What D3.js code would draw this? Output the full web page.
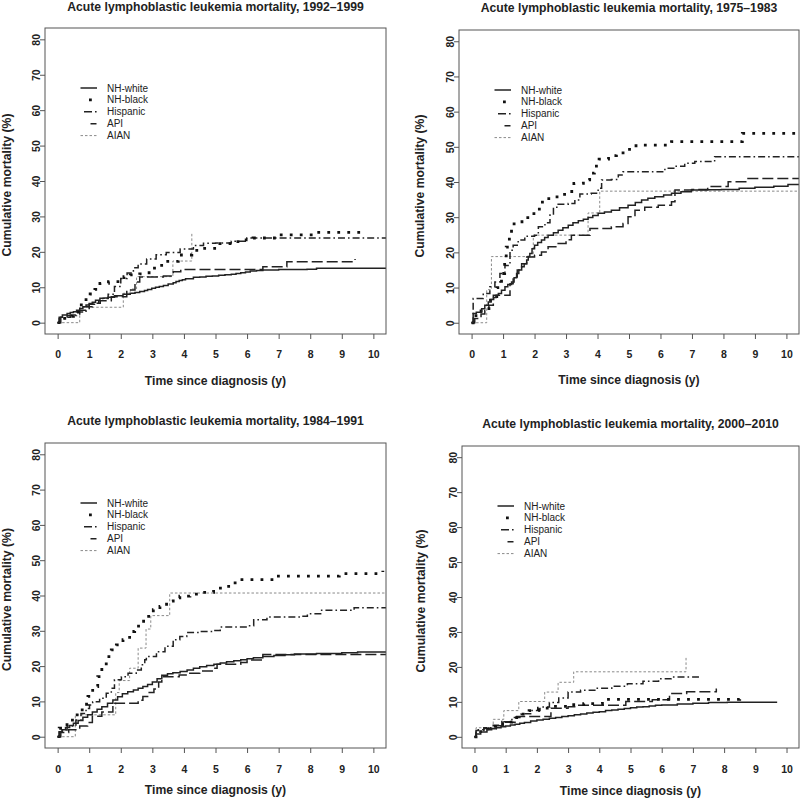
<!DOCTYPE html>
<html>
<head>
<meta charset="utf-8">
<script src="https://cdn.jsdelivr.net/npm/d3@7"></script>
<style>
  html, body { margin: 0; padding: 0; background: #fff; }
  svg { display: block; font-family: "Liberation Sans", Arial, sans-serif; }
</style>
</head>
<body>
<svg id="chart" width="800" height="798"></svg>
<script>
// ---------------- DATA ----------------
const groups = ["NH-white", "NH-black", "Hispanic", "API", "AIAN"];
const titles = [
  "Acute lymphoblastic leukemia mortality, 1992\u20131999",
  "Acute lymphoblastic leukemia mortality, 1975\u20131983",
  "Acute lymphoblastic leukemia mortality, 1984\u20131991",
  "Acute lymphoblastic leukemia mortality, 2000\u20132010"
];
const xTicks = [0, 1, 2, 3, 4, 5, 6, 7, 8, 9, 10];
const yTicks = [0, 10, 20, 30, 40, 50, 60, 70, 80];
const xLabel = "Time since diagnosis (y)";
const yLabel = "Cumulative mortality (%)";

// [time (y), cumulative mortality (%)] step points, 1992-1999
const white92 = [[0,0],[0.05,1.5],[0.15,2.2],[0.3,2.6],[0.4,2.9],[0.5,3.1],[0.6,3.5],[0.7,4.0],[0.8,4.5],[0.9,5.0],[1.0,5.4],[1.1,5.8],[1.2,6.3],[1.34,6.9],[1.47,7.0],[1.6,7.2],[1.8,7.6],[2.07,8.0],[2.3,8.3],[2.45,8.5],[2.6,8.8],[2.75,9.1],[2.85,9.4],[2.98,9.7],[3.1,10.0],[3.22,10.2],[3.35,10.5],[3.5,10.9],[3.66,11.3],[3.75,11.6],[3.85,11.9],[3.95,12.1],[4.05,12.4],[4.3,12.8],[4.5,12.9],[4.7,13.1],[4.9,13.2],[5.1,13.4],[5.3,13.5],[5.5,13.7],[5.65,13.9],[5.8,14.1],[5.95,14.3],[6.1,14.6],[6.3,14.7],[6.5,14.9],[7.0,15.0],[7.9,15.1],[8.2,15.4],[10.4,15.4]];
const black92 = [[0,0],[0.1,1.2],[0.3,1.8],[0.5,3.0],[0.75,5.0],[0.9,6.5],[1.03,8.1],[1.18,9.4],[1.34,11.1],[1.61,11.6],[1.98,12.1],[2.1,13.0],[2.3,13.5],[2.6,13.8],[2.82,14.1],[2.98,15.4],[3.2,16.2],[3.4,17.3],[3.82,19.1],[4.25,20.4],[4.6,21.0],[5.14,22.3],[5.57,22.9],[5.88,23.4],[6.19,23.9],[6.94,24.8],[8.1,25.5],[9.7,25.5]];
const hisp92 = [[0,0],[0.05,1.2],[0.3,2.0],[0.6,3.0],[0.9,4.5],[1.1,5.5],[1.35,6.8],[1.6,8.0],[1.8,10.2],[2.0,12.5],[2.2,14.0],[2.4,15.5],[2.55,16.6],[2.82,18.0],[3.12,19.2],[3.44,19.8],[3.88,20.8],[4.3,21.8],[4.62,22.4],[5.0,22.5],[5.5,23.0],[5.99,23.9],[10.4,23.9]];
const api92 = [[0,0],[0.1,1.5],[0.4,2.2],[0.7,3.5],[1.0,5.2],[1.3,6.2],[1.7,7.3],[2.19,9.2],[2.45,11.5],[2.6,12.9],[3.35,13.2],[3.66,14.4],[3.9,15.0],[6.5,15.8],[7.26,17.2],[9.42,18.0]];
const aian92 = [[0,0],[0.7,4.35],[2.08,8.3],[2.3,9.5],[2.5,13.0],[3.65,17.4],[4.25,25.5]];

// 1975-1983
const white75 = [[0,0],[0.05,2.6],[0.15,3.0],[0.32,4.0],[0.42,5.0],[0.53,5.9],[0.62,6.6],[0.7,7.2],[0.78,7.8],[0.85,8.3],[0.95,9.2],[1.06,10.2],[1.15,10.9],[1.27,11.6],[1.35,12.8],[1.43,14.0],[1.5,15.0],[1.59,15.9],[1.67,16.8],[1.75,17.8],[1.8,18.8],[1.85,19.7],[1.92,21.0],[2.0,22.0],[2.1,22.8],[2.22,23.5],[2.32,24.2],[2.43,24.9],[2.6,25.6],[2.75,26.3],[2.9,27.0],[3.07,27.7],[3.22,28.4],[3.39,29.0],[3.55,29.4],[3.7,29.9],[3.85,30.5],[4.02,31.1],[4.22,31.5],[4.44,32.0],[4.7,32.7],[4.97,33.4],[5.2,34.2],[5.4,34.9],[5.6,35.4],[5.82,35.8],[6.1,36.3],[6.35,36.8],[6.65,37.2],[6.98,37.7],[7.5,37.8],[7.94,37.9],[8.5,38.2],[9.0,38.5],[9.6,38.8],[10.05,39.3],[10.4,39.3]];
const black75 = [[0,0],[0.05,2.0],[0.3,4.0],[0.6,7.0],[0.8,10.0],[0.95,14.0],[1.05,18.0],[1.1,21.5],[1.2,26.0],[1.35,28.7],[1.6,29.9],[1.9,31.0],[2.05,32.3],[2.25,35.3],[2.6,35.8],[2.8,36.5],[3.0,37.3],[3.25,39.6],[3.55,40.6],[3.75,42.5],[3.9,44.5],[4.05,46.5],[4.35,47.5],[4.6,48.3],[4.9,49.3],[5.1,50.3],[5.3,50.5],[6.35,51.5],[8.6,53.8],[10.4,53.8]];
const hisp75 = [[0,0],[0.05,6.9],[0.37,8.3],[0.58,10.2],[0.74,11.6],[0.9,14.0],[1.06,16.3],[1.22,20.6],[1.32,22.0],[1.48,23.5],[1.69,24.6],[2.0,24.9],[2.12,27.3],[2.33,28.4],[2.49,30.6],[2.6,32.8],[2.75,33.7],[3.07,33.9],[3.28,34.9],[3.44,36.6],[3.8,36.8],[4.02,38.2],[4.13,40.6],[4.44,40.7],[4.66,42.0],[4.81,42.9],[6.14,43.9],[6.46,44.5],[6.77,45.3],[7.09,45.8],[7.72,47.2],[10.4,47.2]];
const api75 = [[0,0],[0.1,1.2],[0.3,2.5],[0.42,3.5],[0.55,5.0],[0.69,7.8],[1.22,11.1],[1.32,13.0],[1.45,15.0],[1.59,16.8],[1.75,18.7],[2.0,19.2],[2.22,20.1],[2.43,21.6],[2.75,22.5],[3.0,23.6],[3.17,24.9],[3.76,26.8],[4.44,27.3],[4.81,28.2],[4.97,30.1],[5.19,32.0],[5.5,32.8],[5.93,33.4],[6.35,34.4],[6.46,37.7],[7.0,37.9],[7.5,38.7],[8.15,40.1],[8.78,41.0],[10.4,41.0]];
const aian75 = [[0,0],[0.48,9.4],[0.63,18.8],[1.96,24.9],[3.7,31.2],[4.07,37.4],[10.4,37.4]];

// 1984-1991
const white84 = [[0,0],[0.05,1.4],[0.15,2.0],[0.25,2.6],[0.38,3.2],[0.5,3.8],[0.65,4.6],[0.8,5.5],[0.95,6.2],[1.1,7.0],[1.25,7.8],[1.4,8.5],[1.58,9.5],[1.75,10.4],[1.9,11.3],[2.05,12.2],[2.22,12.7],[2.4,13.2],[2.55,13.7],[2.7,14.2],[2.85,14.8],[3.0,15.5],[3.15,16.4],[3.3,17.4],[3.48,17.8],[3.65,18.1],[3.88,18.5],[4.1,18.9],[4.3,19.4],[4.5,19.8],[4.72,20.2],[4.95,20.5],[5.15,20.9],[5.35,21.2],[5.58,21.5],[5.8,21.8],[6.0,22.1],[6.2,22.4],[6.5,22.7],[6.85,23.0],[7.2,23.2],[7.5,23.4],[8.2,23.6],[9.0,23.8],[9.5,24.0],[10.4,24.1]];
const black84 = [[0,0],[0.05,2.4],[0.2,3.4],[0.37,4.7],[0.55,6.2],[0.69,7.6],[0.85,9.2],[0.96,11.4],[1.11,14.2],[1.27,17.0],[1.4,19.8],[1.54,22.7],[1.7,24.6],[1.86,26.0],[2.07,27.5],[2.28,29.8],[2.44,31.3],[2.65,32.7],[2.81,34.1],[3.03,36.0],[3.24,36.9],[3.45,38.4],[3.66,39.3],[3.87,39.8],[4.19,40.4],[4.51,40.9],[4.94,42.1],[5.25,42.6],[5.57,43.6],[5.79,44.5],[6.85,45.5],[8.92,46.2],[10.3,47.0]];
const hisp84 = [[0,0],[0.05,1.9],[0.3,3.0],[0.58,4.7],[0.74,6.6],[0.9,8.0],[1.01,9.0],[1.11,9.9],[1.33,10.9],[1.54,12.3],[1.7,13.7],[1.8,16.1],[2.02,17.0],[2.23,18.0],[2.49,18.9],[2.65,20.4],[2.76,21.8],[2.81,22.7],[3.13,24.1],[3.4,25.6],[3.66,27.5],[3.87,28.4],[4.09,29.5],[4.51,29.8],[4.94,30.1],[5.15,31.1],[6.0,31.4],[6.21,33.1],[6.63,33.9],[7.7,34.1],[7.91,34.8],[8.33,35.8],[9.39,36.5],[10.4,36.5]];
const api84 = [[0,0],[0.1,1.2],[0.35,2.0],[0.7,3.0],[0.95,4.0],[1.1,5.8],[1.4,7.0],[1.75,9.5],[2.55,10.3],[2.7,11.4],[2.9,12.5],[3.05,13.5],[3.2,15.5],[3.3,17.0],[3.85,17.5],[4.1,18.0],[4.5,18.6],[4.95,19.4],[5.05,20.5],[5.8,21.0],[6.0,21.7],[6.5,23.3],[10.4,23.3]];
const aian84 = [[0,0],[0.56,6.2],[1.84,12.5],[1.95,15.9],[2.28,19.4],[2.55,25.1],[2.8,30.5],[2.95,34.3],[3.55,40.7],[10.4,40.7]];

// 2000-2010
const white00 = [[0,0],[0.05,0.8],[0.2,1.4],[0.4,2.0],[0.55,2.3],[0.7,2.6],[0.85,2.9],[1.0,3.1],[1.15,3.4],[1.3,3.6],[1.45,3.9],[1.6,4.1],[1.8,4.5],[2.0,4.8],[2.2,5.0],[2.4,5.3],[2.6,5.5],[2.8,5.8],[3.0,6.0],[3.2,6.3],[3.4,6.5],[3.6,6.8],[3.8,7.0],[4.0,7.2],[4.2,7.5],[4.4,7.7],[4.6,7.9],[4.8,8.1],[5.0,8.3],[5.2,8.5],[5.4,8.6],[5.6,8.8],[5.8,9.0],[6.0,9.1],[6.5,9.4],[7.0,9.6],[7.5,9.8],[8.1,9.9],[9.7,9.9]];
const black00 = [[0,0],[0.05,1.5],[0.3,2.3],[0.6,3.0],[0.9,4.2],[1.2,5.5],[1.45,6.5],[1.75,7.5],[2.05,8.2],[2.5,8.7],[3.0,9.2],[3.5,9.5],[4.1,10.7],[8.5,11.0]];
const hisp00 = [[0,0],[0.05,2.0],[0.3,2.6],[0.6,3.3],[0.9,4.3],[1.2,5.5],[1.5,6.6],[1.8,7.5],[2.1,8.5],[2.4,9.8],[2.7,11.1],[3.0,12.8],[3.4,13.3],[3.9,13.9],[4.4,14.5],[4.9,15.2],[5.4,15.9],[5.9,16.6],[6.3,17.1],[7.17,18.1]];
const api00 = [[0,0],[0.05,1.8],[0.3,2.4],[0.7,3.2],[1.0,4.2],[1.35,5.8],[2.45,8.2],[3.0,8.6],[3.3,9.0],[4.85,10.1],[5.7,10.6],[6.25,12.4],[6.8,12.9],[7.75,13.8]];
const aian00 = [[0,0],[0.05,2.6],[0.6,5.0],[0.94,7.5],[1.42,10.1],[2.25,12.8],[2.68,15.6],[3.18,18.6],[6.78,22.9]];

const panelSeries = [
  [white92, black92, hisp92, api92, aian92],
  [white75, black75, hisp75, api75, aian75],
  [white84, black84, hisp84, api84, aian84],
  [white00, black00, hisp00, api00, aian00]
];

// ---------------- LAYOUT / STYLE ----------------
const layouts = [
  {left: 45,  right: 386, top: 28,  bottom: 334, titleY: 11,    xTickY: 23.5, xLabelY: 384.5, yLabelX: 10.5},
  {left: 459, right: 799, top: 30,  bottom: 334, titleY: 12,    xTickY: 24,   xLabelY: 384,   yLabelX: 424},
  {left: 45,  right: 386, top: 443, bottom: 748, titleY: 425,   xTickY: 24.5, xLabelY: 794,   yLabelX: 10.5},
  {left: 462, right: 799, top: 446, bottom: 748, titleY: 427.5, xTickY: 25,   xLabelY: 795,   yLabelX: 425}
];
const styles = [
  {stroke: "#222", width: 1.5, dash: null,           legendDash: null},
  {stroke: "#111", width: 2.8, dash: "2.8,7.2",      legendDash: "0,8.5,2.8,12"},
  {stroke: "#222", width: 1.5, dash: "7,3,1.6,3",    legendDash: "0,3.5,8,3,1.6,6"},
  {stroke: "#222", width: 1.5, dash: "11,4",         legendDash: "0,10,6,6"},
  {stroke: "#8a8a8a", width: 1, dash: "2.5,2",       legendDash: "2.5,2"}
];
const textColor = "#222";
const boxColor = "#555";

const svg = d3.select("#chart");

layouts.forEach((L, pi) => {
  const g = svg.append("g");
  const x = d3.scaleLinear().domain([-0.4, 10.4]).range([L.left, L.right]);
  const y = d3.scaleLinear().domain([-3.2, 83.2]).range([L.bottom, L.top]);
  const cx = (L.left + L.right) / 2;
  const cy = (L.top + L.bottom) / 2;

  const clipId = "clip" + pi;
  svg.append("clipPath").attr("id", clipId)
    .append("rect").attr("x", L.left).attr("y", L.top)
    .attr("width", L.right - L.left).attr("height", L.bottom - L.top);

  // axes
  const xAxis = g.append("g").attr("transform", `translate(0,${L.bottom})`)
    .call(d3.axisBottom(x).tickValues(xTicks).tickSize(5).tickFormat(d3.format("d")));
  const yAxis = g.append("g").attr("transform", `translate(${L.left},0)`)
    .call(d3.axisLeft(y).tickValues(yTicks).tickSize(5).tickFormat(d3.format("d")));
  [xAxis, yAxis].forEach(a => {
    a.select(".domain").remove();
    a.selectAll("line").attr("stroke", boxColor);
    a.selectAll("text").attr("fill", textColor)
      .style("font-family", '"Liberation Sans", Arial, sans-serif')
      .style("font-size", "10.5px").style("font-weight", "bold");
  });
  xAxis.selectAll("text").attr("y", L.xTickY).attr("dy", 0);
  yAxis.selectAll("text")
    .attr("transform", "rotate(-90)")
    .attr("x", 0).attr("y", -5.5).attr("dy", 0)
    .attr("text-anchor", "middle");

  // curves
  const line = d3.line().x(d => x(d[0])).y(d => y(d[1])).curve(d3.curveStepAfter);
  const curves = g.append("g").attr("clip-path", `url(#${clipId})`);
  [4, 3, 2, 1, 0].forEach(si => {
    const s = styles[si];
    curves.append("path")
      .datum(panelSeries[pi][si])
      .attr("d", line)
      .attr("fill", "none")
      .attr("stroke", s.stroke)
      .attr("stroke-width", s.width)
      .attr("stroke-dasharray", s.dash)
      .attr("stroke-linejoin", "miter");
  });

  // box
  g.append("rect")
    .attr("x", L.left).attr("y", L.top)
    .attr("width", L.right - L.left).attr("height", L.bottom - L.top)
    .attr("fill", "none").attr("stroke", boxColor).attr("stroke-width", 1);

  // title
  g.append("text").attr("x", cx).attr("y", L.titleY)
    .attr("text-anchor", "middle").attr("fill", textColor)
    .style("font-size", "12.2px").style("font-weight", "bold")
    .text(titles[pi]);
  // x label
  g.append("text").attr("x", cx).attr("y", L.xLabelY)
    .attr("text-anchor", "middle").attr("fill", textColor)
    .style("font-size", "12.2px").style("font-weight", "bold")
    .text(xLabel);
  // y label
  g.append("text")
    .attr("transform", `translate(${L.yLabelX},${cy + 4}) rotate(-90)`)
    .attr("text-anchor", "middle").attr("fill", textColor)
    .style("font-size", "12.2px").style("font-weight", "bold")
    .text(yLabel);

  // legend
  const lg = g.append("g").attr("transform", `translate(${L.left + 35.5},${L.top + 60})`);
  groups.forEach((name, i) => {
    const s = styles[i];
    const row = lg.append("g").attr("transform", `translate(0,${i * 11.9})`);
    row.append("line").attr("x1", 0).attr("x2", 16.5).attr("y1", 0).attr("y2", 0)
      .attr("stroke", s.stroke).attr("stroke-width", s.width)
      .attr("stroke-dasharray", s.legendDash);
    row.append("text").attr("x", 26.5).attr("y", 0).attr("dy", "0.35em")
      .attr("fill", textColor).style("font-size", "10px")
      .text(name);
  });
});
</script>
</body>
</html>
